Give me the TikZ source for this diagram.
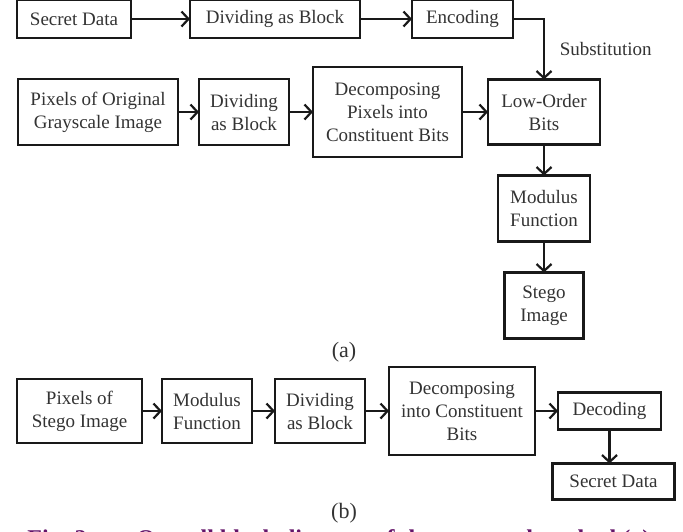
\documentclass[tikz,border=0pt]{standalone}
\usepackage{fontspec}
\setmainfont{Liberation Serif}
\usetikzlibrary{positioning,arrows.meta}
\definecolor{captionpurple}{RGB}{100,20,105}

\begin{document}
\begin{tikzpicture}[x=0.5pt, y=0.5pt,
  every node/.style={font=\fontsize{9.5}{11.5}\selectfont, text=black!80},
  blockbox/.style={draw=black!90, line width=1.3pt, inner sep=1pt, outer sep=0pt, align=center},
  flow/.style={->, line width=1.1pt, draw=black!90},
  >={Straight Barb[length=3.5pt,width=7.5pt]}]
  \useasboundingbox (0,0) rectangle (683,-531);

  \node[blockbox, minimum width=57pt, minimum height=19pt] (secret) at (74,-19) {Secret Data};
  \node[blockbox, minimum width=85pt, minimum height=19pt, right=29.5pt of secret] (divide) {Dividing as Block};
  \node[blockbox, minimum width=50.5pt, minimum height=19pt, right=26pt of divide] (encode) {Encoding};

  \node[blockbox, minimum width=80pt, minimum height=33pt] (pixorig) at (98,-112) {Pixels of Original\\ Grayscale Image};
  \node[blockbox, minimum width=45pt, minimum height=33pt, right=10.5pt of pixorig] (blockrow) {Dividing\\ as Block};
  \node[blockbox, minimum width=74.5pt, minimum height=45pt, right=12pt of blockrow] (decomp) {Decomposing\\ Pixels into\\ Constituent Bits};
  \node[blockbox, minimum width=56pt, minimum height=32.5pt, right=13pt of decomp] (lowbits) {Low-Order\\ Bits};
  \node[blockbox, minimum width=46pt, minimum height=33pt, below=15.5pt of lowbits] (modfun) {Modulus\\ Function};
  \node[blockbox, minimum width=39.5pt, minimum height=33pt, below=15.5pt of modfun] (stego) {Stego\\ Image};
  \node[font=\fontsize{11}{13}\selectfont] (capa) at (344,-352) {(a)};

  \draw[flow] (secret) -- (divide);
  \draw[flow] (divide) -- (encode);
  \draw[flow] (encode.east) -| node[pos=0.75, right=4pt] (subst) {Substitution} (lowbits.north);
  \draw[flow] (pixorig) -- (blockrow);
  \draw[flow] (blockrow) -- (decomp);
  \draw[flow] (decomp) -- (lowbits);
  \draw[flow] (lowbits) -- (modfun);
  \draw[flow] (modfun) -- (stego);

  \node[blockbox, minimum width=62.5pt, minimum height=32pt] (pixstego) at (79.5,-411) {Pixels of\\ Stego Image};
  \node[blockbox, minimum width=45pt, minimum height=32pt, right=10pt of pixstego] (modrow) {Modulus\\ Function};
  \node[blockbox, minimum width=45pt, minimum height=32pt, right=11.5pt of modrow] (dividerow) {Dividing\\ as Block};
  \node[blockbox, minimum width=73pt, minimum height=44pt, right=12pt of dividerow] (decompb) {Decomposing\\ into Constituent\\ Bits};
  \node[blockbox, minimum width=51.5pt, minimum height=18.5pt, right=11.5pt of decompb] (decode) {Decoding};
  \node[blockbox, minimum width=61pt, minimum height=18pt, below=17pt of decode, xshift=2pt] (secretout) {Secret Data};
  \node[font=\fontsize{11}{13}\selectfont] (capb) at (344,-513) {(b)};

  \draw[flow] (pixstego) -- (modrow);
  \draw[flow] (modrow) -- (dividerow);
  \draw[flow] (dividerow) -- (decompb);
  \draw[flow] (decompb) -- (decode);
  \draw[flow] (decode) -- (decode |- secretout.north);

  \node[font=\fontsize{12}{14}\bfseries, text=captionpurple, anchor=base west, inner sep=0pt] (figcap) at (27,-546) {Fig. 2.\hspace{22pt}Overall block diagram of the proposed method (a)};
\end{tikzpicture}
\end{document}
